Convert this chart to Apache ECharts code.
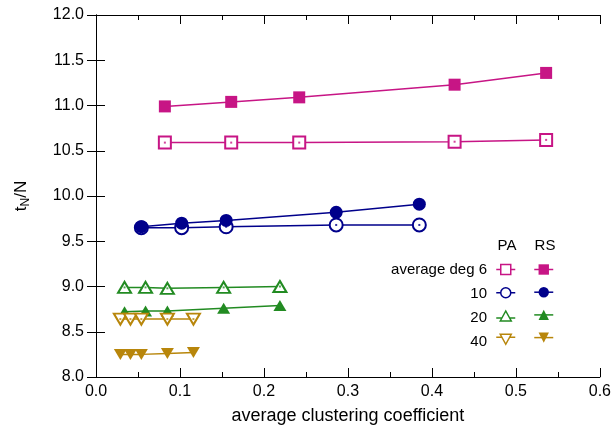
<!DOCTYPE html>
<html>
<head>
<meta charset="utf-8">
<script src="https://cdn.jsdelivr.net/npm/echarts@6/dist/echarts.min.js"></script>
<style>html,body{margin:0;padding:0;background:#fff}#c{width:614px;height:433px}</style>
</head>
<body>
<div id="c"></div>
<script>
// ---- data ----
const xTicks = [0.0, 0.1, 0.2, 0.3, 0.4, 0.5, 0.6];
const yTicks = [8.0, 8.5, 9.0, 9.5, 10.0, 10.5, 11.0, 11.5, 12.0];
const legendLabels = ['average deg 6', '10', '20', '40'];

const x6  = [0.082, 0.161, 0.242, 0.427, 0.536];
const pa6 = [10.59, 10.59, 10.59, 10.60, 10.62];
const rs6 = [10.99, 11.04, 11.09, 11.23, 11.36];

const x10  = [0.054, 0.102, 0.155, 0.286, 0.385];
const pa10 = [9.65, 9.65, 9.66, 9.68, 9.68];
const rs10 = [9.66, 9.70, 9.73, 9.82, 9.91];

const x20  = [0.034, 0.059, 0.085, 0.152, 0.219];
const pa20 = [8.99, 8.99, 8.98, 8.99, 9.00];
const rs20 = [8.72, 8.73, 8.73, 8.76, 8.79];

const x40  = [0.029, 0.041, 0.054, 0.085, 0.116];
const pa40 = [8.64, 8.64, 8.64, 8.64, 8.64];
const rs40 = [8.25, 8.25, 8.25, 8.26, 8.27];

const colors = ['#c71585', '#00008b', '#228b22', '#b8860b'];

// ---- build ----
const zip = (xs, ys) => xs.map((x, i) => [x, ys[i]]);
const FONT = '"Liberation Sans", Arial, sans-serif';

// legend icon shapes for the open (PA) markers: line + hollow symbol
const paIcons = [
  'path://M0,6.5H4.5M4.5,1.5H14.5V11.5H4.5ZM14.5,6.5H19',
  'path://M0,6.5H4.5M4.5,6.5A5,5,0,1,1,14.5,6.5A5,5,0,1,1,4.5,6.5ZM14.5,6.5H19',
  'path://M0,8.5H5.65M4,11.5L9.5,1.5L15,11.5ZM13.35,8.5H19',
  'path://M0,4.5H5.65M4,1.5L15,1.5L9.5,11.5ZM13.35,4.5H19'
];

const groups = [
  {x: x6,  pa: pa6,  rs: rs6,  sym: 'rect', size: 12, rot: 0},
  {x: x10, pa: pa10, rs: rs10, sym: 'circle', size: 13, rot: 0},
  {x: x20, pa: pa20, rs: rs20, sym: 'triangle', size: [13, 11], rot: 0},
  {x: x40, pa: pa40, rs: rs40, sym: 'triangle', size: [13, 11], rot: 180}
];

const series = [];
const paLegend = [];
const rsLegend = [];
groups.forEach((g, i) => {
  const c = colors[i];
  series.push({
    name: legendLabels[i], type: 'line', data: zip(g.x, g.pa),
    symbol: g.sym, symbolSize: g.size, symbolRotate: g.rot, showAllSymbol: true,
    lineStyle: {color: c, width: 1.5},
    itemStyle: {color: '#fff', borderColor: c, borderWidth: 2},
    emphasis: {disabled: true}, animation: false, z: 3
  });
  series.push({
    name: 'dot' + i, type: 'scatter', data: zip(g.x, g.pa),
    symbol: 'rect', symbolSize: 2, itemStyle: {color: c},
    emphasis: {disabled: true}, animation: false, z: 4
  });
  const rn = 'RS ' + legendLabels[i];
  series.push({
    name: rn, type: 'line', data: zip(g.x, g.rs),
    symbol: g.sym, symbolSize: g.size, symbolRotate: g.rot, showAllSymbol: true,
    lineStyle: {color: c, width: 1.5},
    itemStyle: {color: c, borderColor: c, borderWidth: 0},
    emphasis: {disabled: true}, animation: false, z: 3
  });
  paLegend.push({name: legendLabels[i], icon: paIcons[i], symbolRotate: 0,
    itemStyle: {color: '#fff', borderColor: c, borderWidth: 1.5}});
  rsLegend.push({name: rn, lineStyle: {color: c, width: 1.5}, itemStyle: {color: c}});
});

const axisLine = {show: true, lineStyle: {color: '#000', width: 1}};

const legendTop = 263;
const rowPitch = 24;
const legendCommon = {
  orient: 'vertical', align: 'right', top: legendTop, padding: 0,
  itemGap: rowPitch - 13, itemWidth: 19, itemHeight: 13,
  selectedMode: false, formatter: () => '', textStyle: {fontFamily: FONT, fontSize: 13}
};

const graphic = [
  {type: 'text', x: 507, y: 246, style: {text: 'PA', fontFamily: FONT, fontSize: 15, fill: '#000', align: 'center', verticalAlign: 'middle'}},
  {type: 'text', x: 545, y: 246, style: {text: 'RS', fontFamily: FONT, fontSize: 15, fill: '#000', align: 'center', verticalAlign: 'middle'}}
];
legendLabels.forEach((lab, i) => {
  graphic.push({type: 'text', x: 487, y: legendTop + 6.5 + i * rowPitch,
    style: {text: lab, fontFamily: FONT, fontSize: 15, fill: '#000', align: 'right', verticalAlign: 'middle'}});
});

const chart = echarts.init(document.getElementById('c'), null, {renderer: 'canvas'});
chart.setOption({
  backgroundColor: '#fff',
  animation: false,
  grid: {left: 96, right: 12, top: 15, bottom: 56},
  xAxis: [{
    type: 'value', min: xTicks[0], max: xTicks[xTicks.length - 1], interval: 0.1,
    position: 'bottom',
    axisLine: axisLine,
    axisTick: {inside: true, length: 9, lineStyle: {color: '#000'}},
    minorTick: {show: true, splitNumber: 2, length: 5, lineStyle: {color: '#000'}},
    splitLine: {show: false},
    axisLabel: {fontFamily: FONT, fontSize: 16, color: '#000', margin: 7,
      formatter: v => v.toFixed(1)},
    name: 'average clustering coefficient', nameLocation: 'middle', nameGap: 30,
    nameTextStyle: {fontFamily: FONT, fontSize: 18, color: '#000'}
  }, {
    type: 'value', min: xTicks[0], max: xTicks[xTicks.length - 1], interval: 0.1,
    position: 'top',
    axisLine: axisLine,
    axisTick: {inside: true, length: 9, lineStyle: {color: '#000'}},
    minorTick: {show: true, splitNumber: 2, length: 5, lineStyle: {color: '#000'}},
    splitLine: {show: false}, axisLabel: {show: false}
  }],
  yAxis: [{
    type: 'value', min: yTicks[0], max: yTicks[yTicks.length - 1], interval: 0.5,
    position: 'left',
    axisLine: axisLine,
    axisTick: {inside: true, length: 9, lineStyle: {color: '#000'}},
    splitLine: {show: false},
    axisLabel: {fontFamily: FONT, fontSize: 16, color: '#000', margin: 12,
      formatter: v => v.toFixed(1)},
    name: '{t|t}{s|N}{t|/N}', nameLocation: 'middle', nameGap: 64, nameRotate: 90,
    nameTextStyle: {
      fontFamily: FONT, color: '#000',
      rich: {
        t: {fontFamily: FONT, fontSize: 17, color: '#000'},
        s: {fontFamily: FONT, fontSize: 12, color: '#000', padding: [10, 0, 0, 0]}
      }
    }
  }, {
    type: 'value', min: yTicks[0], max: yTicks[yTicks.length - 1], interval: 0.5,
    position: 'right',
    axisLine: axisLine,
    axisTick: {inside: true, length: 9, lineStyle: {color: '#000'}},
    splitLine: {show: false}, axisLabel: {show: false}
  }],
  legend: [
    Object.assign({}, legendCommon, {data: paLegend, right: 98}),
    Object.assign({}, legendCommon, {data: rsLegend, right: 60})
  ],
  graphic: graphic,
  series: series
});
</script>
</body>
</html>
